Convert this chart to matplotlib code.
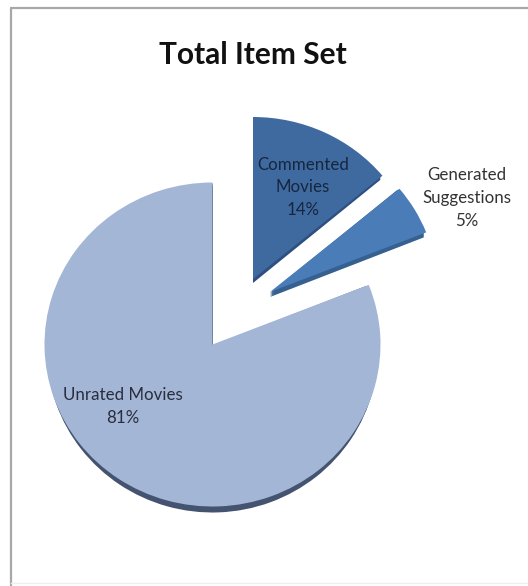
import matplotlib
matplotlib.use("Agg")
import matplotlib.pyplot as plt
from matplotlib.transforms import Affine2D

labels = ["Commented\nMovies\n14%", "Generated\nSuggestions\n5%", "Unrated Movies\n81%"]
values = [14, 5, 81]

colors = ["#3f6a9f", "#4a7cb7", "#a3b6d6"]
side_colors = ["#2e5080", "#35608f", "#44536f"]
text_colors = ["#16263f", "#333333", "#2a2d3e"]

# everything is laid out in pixels, y flipped so 0 is the top edge
W, H = 528, 586
RX, RY = 168, 162
centers = [(253, 279), (270, 292), (212.5, 344.5)]
depths = [4, 5, 6]
label_pos = [(303, 187.5), (467, 198), (123, 406.5)]

plt.rcParams["font.family"] = ["Lato", "DejaVu Sans"]

fig = plt.figure(figsize=(W / 100, H / 100), dpi=100)
ax = fig.add_axes([0, 0, 1, 1])


def place(wedge, cx, cy, rx):
    # unit pie slice -> flattened ellipse at a pixel position
    wedge.set_transform(Affine2D().scale(rx, -RY).translate(cx, cy) + ax.transData)


# sides first so the top faces sit over them
for i in range(3):
    for d in range(depths[i], 0, -1):
        w, _ = ax.pie(values, startangle=90, counterclock=False, radius=1,
                      colors=side_colors, wedgeprops={"linewidth": 0})
        for j, wedge in enumerate(w):
            if j == i:
                place(wedge, centers[i][0], centers[i][1] + d, RX - 2.5)
            else:
                wedge.remove()

wedges, _ = ax.pie(values, startangle=90, counterclock=False, radius=1,
                   colors=colors, wedgeprops={"linewidth": 0})
for wedge, c in zip(wedges, centers):
    place(wedge, c[0], c[1], RX)

ax.set_aspect("auto")
ax.set_xlim(0, W)
ax.set_ylim(H, 0)
ax.axis("off")

# chart frame: strong top and left, bottom barely there, right runs off the edge
ax.plot([11, 11], [8, H], color="#a8a8a8", linewidth=1.6, solid_capstyle="butt")
ax.plot([10, W], [8, 8], color="#a8a8a8", linewidth=1.6, solid_capstyle="butt")
ax.plot([11, W], [583, 583], color="#eeeeee", linewidth=1)

for text, pos, tc in zip(labels, label_pos, text_colors):
    ax.text(pos[0], pos[1], text, ha="center", va="center", fontsize=12.2, color=tc, linespacing=1.52)

ax.text(253, 55.5, "Total Item Set", ha="center", va="center", fontsize=21.5, fontweight="bold", color="#111111")

fig.savefig("out.png", dpi=100)
